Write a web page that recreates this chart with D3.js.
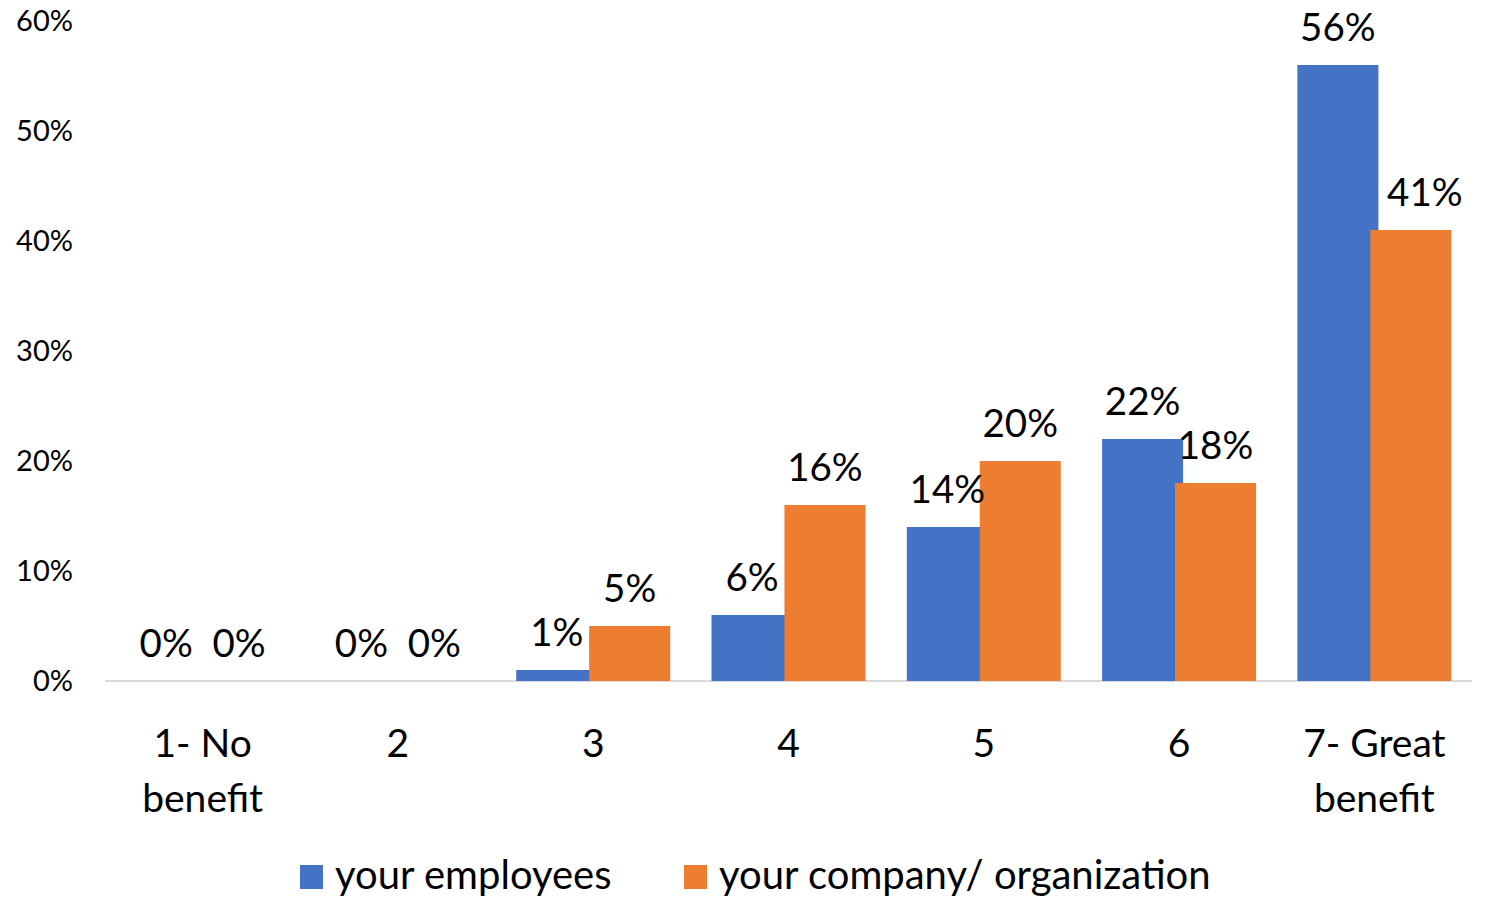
<!DOCTYPE html>
<html>
<head>
<meta charset="utf-8">
<script src="https://cdn.jsdelivr.net/npm/d3@7"></script>
<style>
  html, body { margin: 0; padding: 0; background: #fff; }
  svg { display: block; }
  text { font-family: Lato, "Open Sans", sans-serif; fill: #000; }
</style>
</head>
<body>
<svg id="chart" width="1489" height="899"></svg>
<script>
// Survey responses: perceived benefit on a 1–7 scale
const categories = [["1- No", "benefit"], ["2"], ["3"], ["4"], ["5"], ["6"], ["7- Great", "benefit"]];
const seriesNames = ["your employees", "your company/ organization"];
const employees = [0, 0, 1, 6, 14, 22, 56];
const company = [0, 0, 5, 16, 20, 18, 41];
const yTicks = [0, 10, 20, 30, 40, 50, 60];
const colors = ["#4472C4", "#ED7D31"];

const svg = d3.select("#chart");
const plotLeft = 105, plotRight = 1472, plotTop = 21, plotBase = 681;

const x = d3.scaleBand().domain(d3.range(categories.length)).range([plotLeft, plotRight]).padding(0);
const y = d3.scaleLinear().domain([0, 60]).range([plotBase, plotTop]);

const step = x.step();
const bw = step * 0.415;
const overlap = bw * 0.1;
const groupW = 2 * bw - overlap;
const barX = (i, s) => x(i) + step / 2 - groupW / 2 + s * (bw - overlap);

// y tick labels
svg.append("g").selectAll("text").data(yTicks).join("text")
  .attr("x", 73).attr("y", d => y(d)).attr("dy", "0.36em")
  .attr("text-anchor", "end").attr("font-size", 29)
  .text(d => d + "%");

// baseline
svg.append("line")
  .attr("x1", plotLeft).attr("x2", plotRight).attr("y1", y(0)).attr("y2", y(0))
  .attr("stroke", "#d9d9d9").attr("stroke-width", 2);

const series = [employees, company];
series.forEach((vals, s) => {
  svg.append("g").selectAll("rect").data(vals).join("rect")
    .attr("x", (d, i) => barX(i, s)).attr("width", bw)
    .attr("y", d => y(d)).attr("height", d => y(0) - y(d))
    .attr("fill", colors[s]);
});
// data labels drawn above both series; the last orange label is nudged right
series.forEach((vals, s) => {
  svg.append("g").selectAll("text").data(vals).join("text")
    .attr("x", (d, i) => barX(i, s) + bw / 2 + (s === 1 && i === vals.length - 1 ? 14 : 0))
    .attr("y", d => y(d) - 24)
    .attr("text-anchor", "middle").attr("font-size", 38.5)
    .text(d => d + "%");
});

// category labels
const cat = svg.append("g").selectAll("text").data(categories).join("text")
  .attr("text-anchor", "middle").attr("font-size", 39)
  .attr("transform", (d, i) => `translate(${x(i) + step / 2},757)`);
cat.selectAll("tspan").data(d => d).join("tspan")
  .attr("x", 0).attr("y", (d, j) => j * 55).text(d => d);

// legend
const legendX = [300, 684];
const lg = svg.append("g").selectAll("g").data(seriesNames).join("g")
  .attr("transform", (d, i) => `translate(${legendX[i]},865)`);
lg.append("rect").attr("width", 23).attr("height", 24).attr("fill", (d, i) => colors[i]);
lg.append("text").attr("x", 35).attr("y", 24).attr("font-size", 40).text(d => d);
</script>
</body>
</html>
